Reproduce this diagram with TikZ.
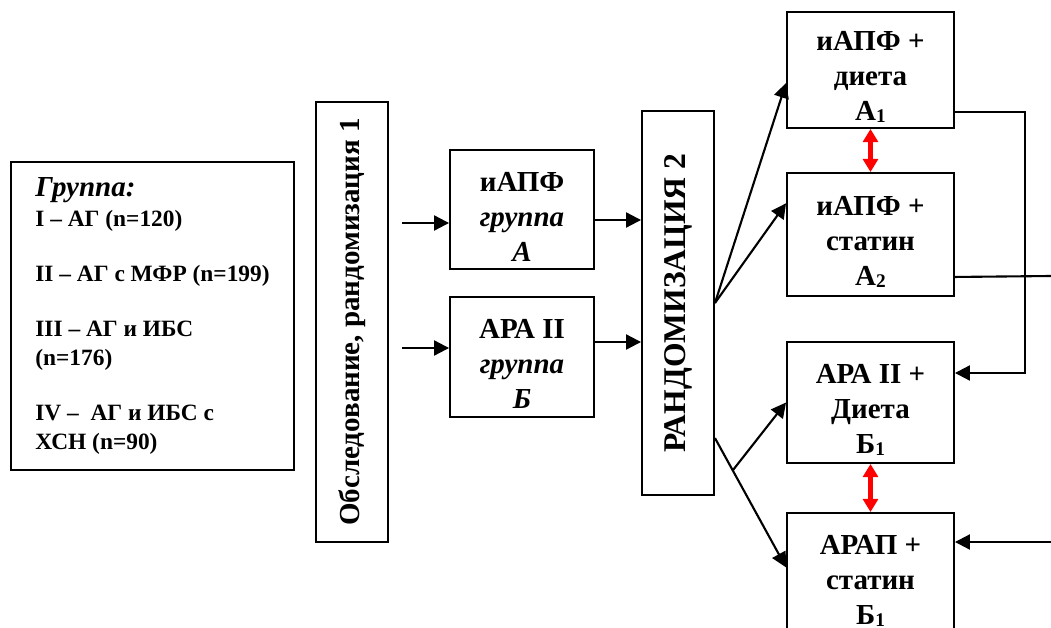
\documentclass[tikz,border=0pt]{standalone}
\usepackage{fontspec}
\setmainfont{Liberation Serif}[BoldFont={Liberation Serif Bold},
  ItalicFont={Liberation Serif Italic}, BoldItalicFont={Liberation Serif Bold Italic}]
\usetikzlibrary{arrows.meta,calc}

\newcommand{\sbs}[1]{\raisebox{-0.15ex}{\fontsize{11}{11}\selectfont #1}}
\newcommand{\tp}{\rule{0pt}{19pt}}

\tikzset{
  box/.style={draw, line width=1.1pt, inner sep=0pt, align=center,
    font=\fontsize{16.5}{19.9}\selectfont\bfseries},
  arr/.style={-{Triangle[length=8.5pt,width=8.5pt]}, line width=1.2pt},
  dbl/.style={{Triangle[length=7.5pt,width=8.5pt]}-{Triangle[length=7.5pt,width=8.5pt]},
    red, line width=2.6pt},
}

\begin{document}
\begin{tikzpicture}[x=0.02cm, y=-0.02cm]
  \useasboundingbox (0,0) rectangle (1051,628);

  % groups of patients
  \node[box, minimum width=5.66cm, minimum height=6.16cm, align=left,
        font=\fontsize{13.3}{16.5}\selectfont\bfseries] (grp) at (152.5,316)
    {{\fontsize{16.5}{17.6}\selectfont\itshape Группа:}\\[1pt]
     I – АГ (n=120)\\[14.8pt]
     II – АГ с МФР (n=199)\\[14.8pt]
     III – АГ и ИБС\\
     (n=176)\\[14.8pt]
     IV –\ \ АГ и ИБС с\\
     ХСН (n=90)};

  \node[box, minimum width=1.44cm, minimum height=8.8cm] (obs) at (352,322)
    {\rotatebox{90}{Обследование, рандомизация 1}};

  \node[box, minimum width=2.88cm, minimum height=2.38cm] (ga) at (522,209.5)
    {\tp иАПФ\\ \itshape группа\\ \itshape А};
  \node[box, minimum width=2.88cm, minimum height=2.4cm] (gb) at (522,357)
    {\tp АРА II\\ \itshape группа\\ \itshape Б};

  \node[box, minimum width=1.44cm, minimum height=7.68cm] (r2) at (678,303)
    {\rotatebox{90}{\fontsize{18}{20}\selectfont РАНДОМИЗАЦИЯ 2}};

  % second randomisation
  \node[box, minimum width=3.34cm, minimum height=2.32cm] (a1) at (870.5,70)
    {\tp иАПФ +\\ диета\\ А\sbs{1}};
  \node[box, minimum width=3.34cm, minimum height=2.46cm] (a2) at (870.5,234.5)
    {\tp иАПФ +\\ статин\\ А\sbs{2}};
  \node[box, minimum width=3.34cm, minimum height=2.42cm] (b1) at (870.5,402.5)
    {\tp АРА II +\\ Диета\\ Б\sbs{1}};
  \node[box, minimum width=3.34cm, minimum height=2.42cm] (b2) at (870.5,573.5)
    {\tp АРАП +\\ статин\\ Б\sbs{1}};

  \coordinate (ina) at (402,223);
  \coordinate (inb) at (402,348);
  \coordinate (outa) at (594,220);
  \coordinate (outb) at (594,342);
  \coordinate (fa) at (r2.east);
  \coordinate (fb) at ($(r2.east)!0.7!(r2.south east)$);
  \coordinate (rx) at (1025,0);
  \coordinate (ea) at (1051,276);
  \coordinate (eb) at (1051,542);

  \draw[arr] (ina) -- (ina -| ga.west);
  \draw[arr] (inb) -- (inb -| gb.west);
  \draw[arr] (outa -| ga.east) -- (outa -| r2.west);
  \draw[arr] (outb -| gb.east) -- (outb -| r2.west);

  \draw[arr] (fa) -- ($(a1.north west)!0.61!(a1.south west)$);
  \draw[arr] (fa) -- ($(a2.north west)!0.25!(a2.south west)$);
  \draw[arr] (fb) -- ($(b2.north west)!0.45!(b2.south west)$) coordinate (tb2);
  \draw[arr] ($(fb)!0.25!(tb2)$) -- (b1.west);

  \draw[arr] ($(a1.north east)!0.86!(a1.south east)$) -| (rx |- 0,373) -- (b1.east |- 0,373);
  \draw[line width=1.2pt] ($(a2.north east)!0.84!(a2.south east)$) -- (ea);
  \draw[arr] (eb) -- (eb -| b2.east);

  \draw[dbl] (a1.south) -- (a2.north);
  \draw[dbl] (b1.south) -- (b2.north);
\end{tikzpicture}
\end{document}
